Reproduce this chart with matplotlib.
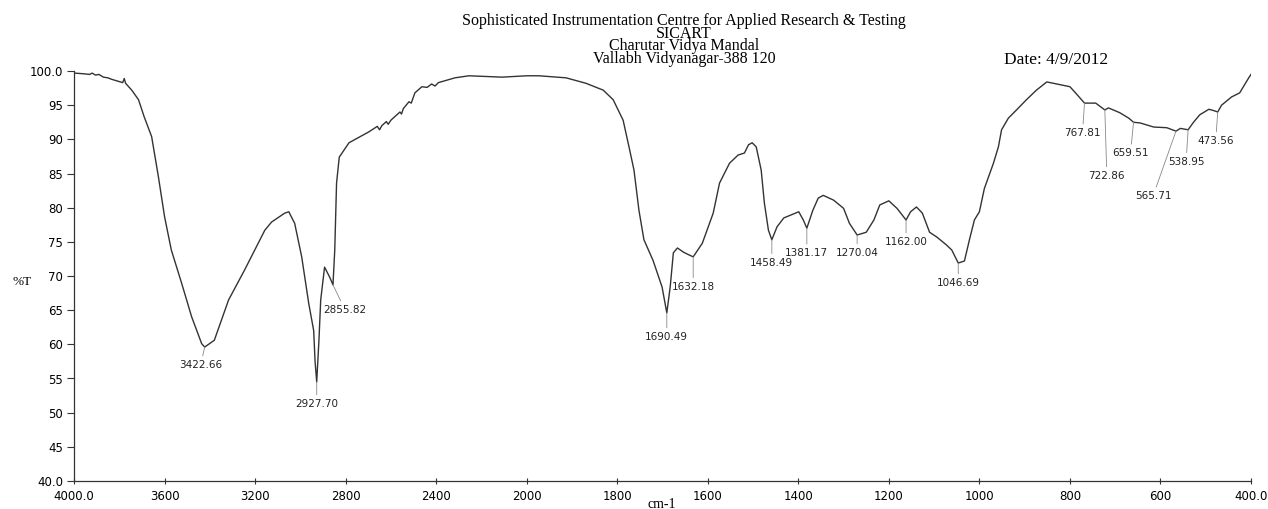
import numpy as np
import matplotlib
matplotlib.use("Agg")
import matplotlib.pyplot as plt

# FTIR spectrum (wavenumber cm-1, %T)
wavenumber = [4000, 3960, 3930, 3920, 3905, 3890, 3870, 3850, 3835, 3805, 3785, 3778, 3772,
              3745, 3715, 3690, 3657, 3627, 3600, 3570, 3525, 3480, 3436, 3422.66, 3380,
              3317, 3246, 3157, 3127, 3069, 3051, 3025, 2994, 2963, 2941, 2935, 2927.70,
              2918, 2910, 2893, 2870, 2855.82, 2848, 2840, 2828, 2785, 2697, 2660, 2650,
              2640, 2620, 2612, 2600, 2560, 2553, 2545, 2520, 2510, 2494, 2463, 2440,
              2420, 2405, 2390, 2317, 2255, 2109, 2000, 1973, 1913, 1869, 1831, 1809,
              1787, 1774, 1763, 1752, 1741, 1721, 1701, 1690.49, 1683, 1676, 1667, 1654,
              1645, 1632.18, 1612, 1588, 1574, 1552, 1533, 1519, 1510, 1502, 1493, 1482,
              1475, 1466, 1458.49, 1447, 1432, 1410, 1399, 1389, 1381.17, 1368, 1356,
              1345, 1322, 1300, 1287, 1270.04, 1250, 1233, 1220, 1200, 1182, 1162.00,
              1152, 1139, 1126, 1110, 1094, 1072, 1061, 1046.69, 1033, 1022, 1011, 1000,
              989, 969, 958, 951, 936, 918, 896, 874, 851, 822, 800, 789, 767.81, 743,
              722.86, 715, 690, 670, 659.51, 645, 615, 586, 565.71, 556, 538.95, 527,
              513, 493, 482, 473.56, 465, 443, 425, 405, 400]
transmittance = [99.7, 99.6, 99.5, 99.7, 99.4, 99.5, 99.1, 99.0, 98.8, 98.5, 98.3, 98.9, 98.2,
                 97.2, 95.8, 93.3, 90.4, 84.5, 78.7, 73.8, 69.0, 64.0, 60.1, 59.6, 60.6,
                 66.5, 70.9, 76.7, 77.9, 79.2, 79.4, 77.7, 72.8, 66.0, 62.0, 57.5, 54.5,
                 60.5, 66.5, 71.3, 69.8, 68.7, 73.8, 83.6, 87.4, 89.5, 91.1, 91.9, 91.4,
                 92.0, 92.6, 92.2, 92.8, 94.0, 93.7, 94.5, 95.5, 95.3, 96.8, 97.7, 97.6,
                 98.1, 97.8, 98.3, 99.0, 99.3, 99.1, 99.3, 99.3, 99.0, 98.2, 97.2, 95.8,
                 92.8, 88.9, 85.5, 79.6, 75.3, 72.3, 68.4, 64.6, 68.4, 73.4, 74.1, 73.5,
                 73.2, 72.8, 74.8, 79.2, 83.6, 86.5, 87.7, 88.0, 89.2, 89.5, 88.9, 85.5,
                 80.7, 76.7, 75.3, 77.2, 78.5, 79.1, 79.4, 78.2, 77.0, 79.6, 81.4,
                 81.8, 81.1, 79.9, 77.7, 76.0, 76.4, 78.2, 80.4, 81.0, 79.9, 78.2,
                 79.4, 80.1, 79.2, 76.4, 75.7, 74.5, 73.8, 71.9, 72.2, 75.3, 78.2, 79.4,
                 82.8, 86.5, 88.9, 91.4, 93.1, 94.3, 95.8, 97.2, 98.4, 98.0, 97.7, 96.9, 95.3, 95.3,
                 94.3, 94.6, 93.9, 93.1, 92.5, 92.4, 91.8, 91.7, 91.2, 91.6, 91.4, 92.5,
                 93.6, 94.4, 94.2, 94.0, 95.0, 96.2, 96.8, 99.0, 99.5]

peak_wn = [3422.66, 2927.70, 2855.82, 1690.49, 1632.18, 1458.49, 1381.17, 1270.04,
           1162.00, 1046.69, 767.81, 722.86, 659.51, 565.71, 538.95, 473.56]
# where each peak label sits relative to its dip (pixels, +down)
label_offsets = [(-4, 18), (0, 22), (12, 25), (0, 24), (0, 30), (0, 23), (0, 25), (0, 18),
                 (0, 22), (0, 20), (-2, 30), (2, 66), (-3, 31), (-23, 65), (-2, 32), (-2, 29)]

xticks = [4000, 3600, 3200, 2800, 2400, 2000, 1800, 1600, 1400, 1200, 1000, 800, 600, 400]
xticklabels = ["4000.0", "3600", "3200", "2800", "2400", "2000", "1800", "1600",
               "1400", "1200", "1000", "800", "600", "400.0"]
yticks = [100, 95, 90, 85, 80, 75, 70, 65, 60, 55, 50, 45, 40]
yticklabels = ["100.0", "95", "90", "85", "80", "75", "70", "65", "60", "55", "50", "45", "40.0"]

title_lines = ["Sophisticated Instrumentation Centre for Applied Research & Testing",
               "SICART", "Charutar Vidya Mandal", "Vallabh Vidyanagar-388 120"]


# instrument axis: 2000-400 drawn at twice the scale of 4000-2000
def fwd(x):
    x = np.asarray(x, float)
    return np.where(x <= 2000, x, 2000 + (x - 2000) / 2)


def inv(y):
    y = np.asarray(y, float)
    return np.where(y <= 2000, y, 2000 + (y - 2000) * 2)


W, H = 1268, 509
fig = plt.figure(figsize=(W / 100, H / 100), dpi=100)
fig.patch.set_facecolor("white")
ax = fig.add_axes([74 / W, 1 - 481 / H, (1251 - 74) / W, (481 - 71) / H])

ax.set_xscale("function", functions=(fwd, inv))
ax.set_xlim(4000, 400)
ax.set_ylim(40, 100)

ax.plot(wavenumber, transmittance, color="#333333", lw=1.0)

wn_arr = np.array(wavenumber)[::-1]
t_arr = np.array(transmittance)[::-1]
for wn_p, (dx, dy) in zip(peak_wn, label_offsets):
    t_p = np.interp(wn_p, wn_arr, t_arr)
    ax.annotate(f"{wn_p:.2f}", xy=(wn_p, t_p), xytext=(dx, -dy), textcoords="offset pixels",
                ha="center", va="center", fontsize=7.5, color="#222222",
                arrowprops=dict(arrowstyle="-", color="#888888", lw=0.6, shrinkA=1, shrinkB=0))

ax.set_xticks(xticks)
ax.set_xticklabels(xticklabels)
ax.set_yticks(yticks)
ax.set_yticklabels(yticklabels)
ax.minorticks_off()
ax.tick_params(axis="both", labelsize=8.5, width=0.8, color="#333333")
ax.tick_params(axis="x", direction="inout", length=5, pad=4)
ax.tick_params(axis="y", direction="out", length=5, pad=3)
for s in ["top", "right"]:
    ax.spines[s].set_visible(False)
for s in ["left", "bottom"]:
    ax.spines[s].set_color("#333333")
    ax.spines[s].set_linewidth(0.9)

serif = ["Liberation Serif", "DejaVu Serif"]
# header block, tightly spaced like the instrument printout
fig.text(684 / W, 1 - 40 / H, "\n".join(title_lines), ha="center", va="center",
         multialignment="center", linespacing=0.72, fontsize=11.5, family=serif)
fig.text(1056 / W, 1 - 60 / H, "Date: 4/9/2012", ha="center", va="center", fontsize=12.5, family=serif)
fig.text(22 / W, 1 - 282 / H, "%T", ha="center", va="center", fontsize=9.5, family=serif)
fig.text(662 / W, 1 - 505 / H, "cm-1", ha="center", va="center", fontsize=10, family=serif)

fig.savefig("out.png", dpi=100)
